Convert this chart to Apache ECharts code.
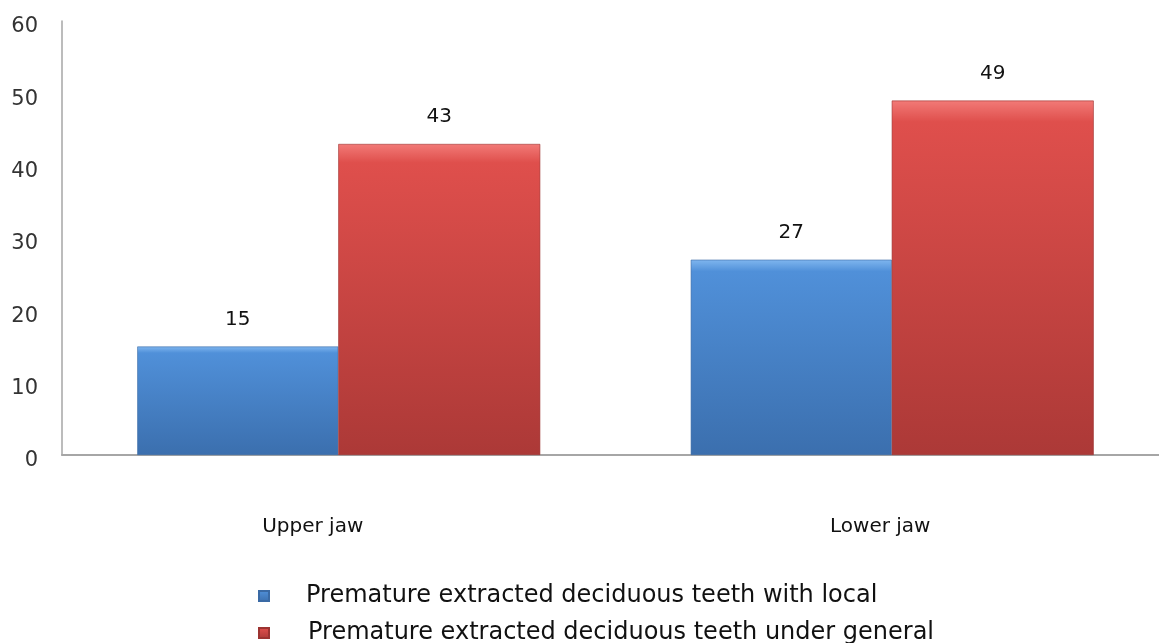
<!DOCTYPE html>
<html>
<head>
<meta charset="utf-8">
<script src="https://cdn.jsdelivr.net/npm/echarts@6/dist/echarts.min.js"></script>
<style>
  html, body { margin: 0; padding: 0; background: #fff; overflow: hidden; }
  /* plot runs past the right edge in the original, so the canvas is a bit wider than the window */
  #chart { width: 1170px; height: 643px; }
</style>
</head>
<body>
<div id="chart"></div>
<script>
var categories = ['Upper jaw', 'Lower jaw'];
var seriesNames = [
    'Premature extracted deciduous teeth with local',
    'Premature extracted deciduous teeth under general'
];
var localValues = [15, 27];
var generalValues = [43, 49];
var yTicks = [0, 10, 20, 30, 40, 50, 60];

var FONT = '"DejaVu Sans", sans-serif';

function grad(top, mid, bottom) {
    return new echarts.graphic.LinearGradient(0, 0, 0, 1, [
        { offset: 0, color: top },
        { offset: 0.06, color: mid },
        { offset: 1, color: bottom }
    ]);
}

// one legend per row, the original stacks them
function legendRow(name, top, textLeft) {
    return {
        orient: 'horizontal',
        left: 253,
        top: top,
        itemWidth: 10,
        itemHeight: 10,
        icon: 'rect',
        selectedMode: false,
        textStyle: {
            fontFamily: FONT,
            fontSize: 24,
            color: '#111',
            padding: [0, 0, 0, textLeft]
        },
        data: [name]
    };
}

var myChart = echarts.init(document.getElementById('chart'));
var option = {
    backgroundColor: '#ffffff',
    animation: false,
    grid: { left: 62, right: 1, top: 21, bottom: 188, containLabel: false },
    legend: [
        legendRow(seriesNames[0], 579, 32),
        legendRow(seriesNames[1], 616, 34)
    ],
    xAxis: {
        type: 'category',
        data: [
            { value: categories[0], textStyle: { padding: [0, 52, 0, 0] } },
            { value: categories[1], textStyle: { padding: [0, 24, 0, 0] } }
        ],
        axisLine: { show: true, lineStyle: { color: '#a6a6a6', width: 2 } },
        axisTick: { show: false },
        axisLabel: { margin: 62, fontFamily: FONT, fontSize: 20, color: '#111' }
    },
    yAxis: {
        type: 'value',
        min: yTicks[0],
        max: yTicks[yTicks.length - 1],
        interval: 10,
        axisLine: { show: true, lineStyle: { color: '#a6a6a6', width: 1.5 } },
        axisTick: { show: false },
        splitLine: { show: false },
        axisLabel: {
            margin: 24,
            fontFamily: FONT,
            fontSize: 21,
            color: '#333',
            verticalAlign: 'top',
            lineHeight: 12
        }
    },
    series: [
        {
            name: seriesNames[0],
            type: 'bar',
            data: localValues,
            barWidth: 201,
            barGap: '0%',
            itemStyle: {
                color: grad('#7fb6ef', '#5090d9', '#3b6fae'),
                borderColor: '#3a6aa5',
                borderWidth: 0.6
            },
            label: {
                show: true,
                position: 'top',
                distance: 17,
                fontFamily: FONT,
                fontSize: 20,
                color: '#111'
            }
        },
        {
            name: seriesNames[1],
            type: 'bar',
            data: generalValues,
            barWidth: 202,
            itemStyle: {
                color: grad('#f27a77', '#df4f4c', '#ac3937'),
                borderColor: '#9c3331',
                borderWidth: 0.6
            },
            label: {
                show: true,
                position: 'top',
                distance: 17,
                fontFamily: FONT,
                fontSize: 20,
                color: '#111'
            }
        }
    ]
};
myChart.setOption(option);
</script>
</body>
</html>
